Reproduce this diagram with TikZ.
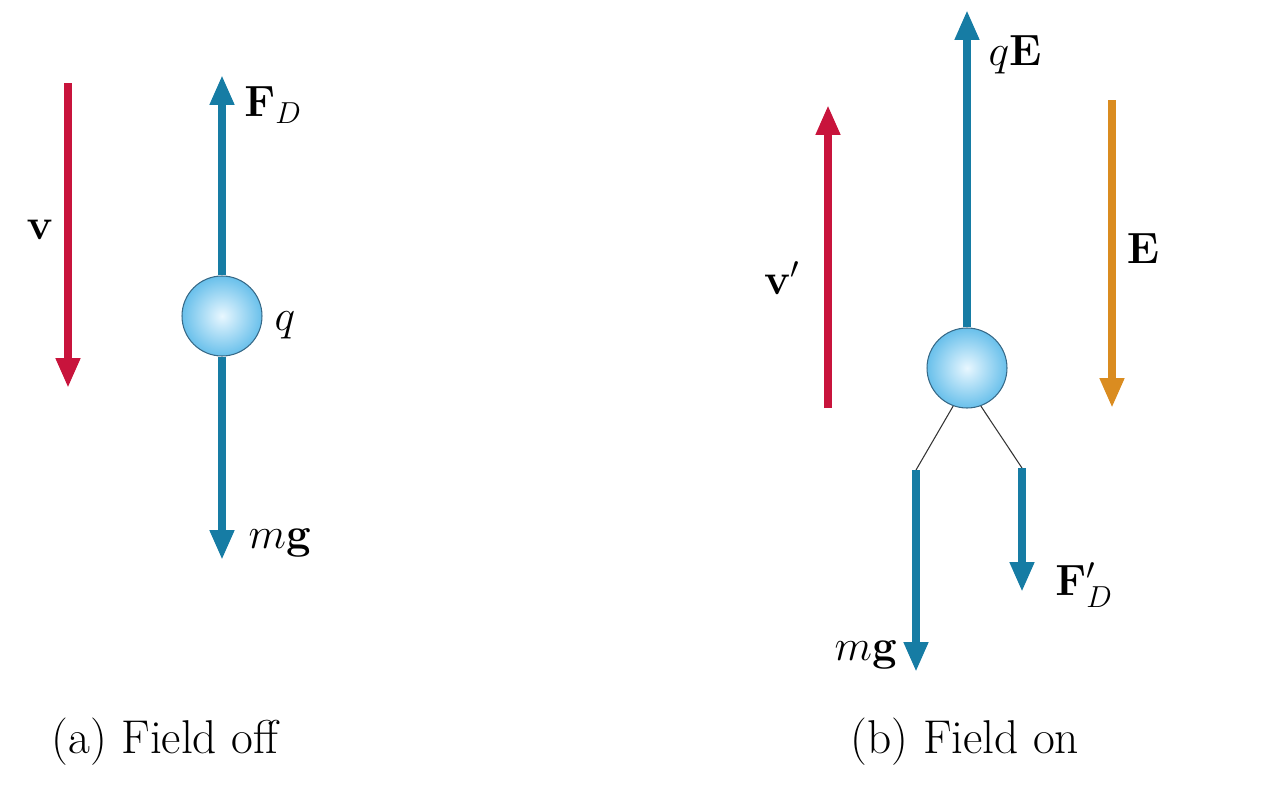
\documentclass[tikz,border=0pt]{standalone}
\usepackage{amsmath}
\usepackage{tikz}
\usetikzlibrary{arrows.meta, positioning}
\definecolor{forceblue}{RGB}{22,124,164}
\definecolor{velred}{RGB}{200,20,60}
\definecolor{fieldorange}{RGB}{218,140,32}
\definecolor{ballblue}{RGB}{105,192,235}
\definecolor{ballglow}{RGB}{232,247,255}
\definecolor{balledge}{RGB}{55,105,135}

\begin{document}
\begin{tikzpicture}[
    x=0.02cm, y=-0.02cm,
    ball/.style={circle, draw=balledge, line width=0.6pt, inner color=ballglow, outer color=ballblue, minimum size=1.6cm, inner sep=0pt},
    vec/.style={line width=4.5pt, -{Triangle[width=13pt, length=17pt]}},
    tie/.style={line width=0.6pt, black!80},
    lbl/.style={font=\fontsize{23}{27}\selectfont, inner sep=0pt},
    caption/.style={font=\fontsize{27}{32}\selectfont, inner sep=0pt}
]
    \useasboundingbox (0,0) rectangle (1285,788);

    % Field off
    \node (ballA) [ball] at (222,316) {};
    \coordinate (vAtop) at (68,83);
    \coordinate (vAtip) at (68,388);
    \coordinate (fdtip) at (222,75);
    \coordinate (mgAtip) at (222,560);
    \node (vA) [lbl] at (40,230) {$\mathbf{v}$};
    \node (fdA) [lbl] at (273,105) {$\mathbf{F}_D$};
    \node (qA) [lbl] at (285,325) {$q$};
    \node (mgA) [lbl] at (280,543) {$m\mathbf{g}$};
    \node (capA) [caption] at (165,742) {(a) Field off};

    % Field on
    \node (ballB) [ball] at (967,368) {};
    \coordinate (vBbot) at (828,408);
    \coordinate (vBtip) at (828,105);
    \coordinate (qEtip) at (967,10);
    \coordinate (Etop) at (1112,100);
    \coordinate (Etip) at (1112,408);
    \coordinate (mgBtop) at (916,470);
    \coordinate (mgBtip) at (916,672);
    \coordinate (fdBtop) at (1022,468);
    \coordinate (fdBtip) at (1022,592);
    \node (vB) [lbl] at (782,278) {$\mathbf{v}'$};
    \node (qEB) [lbl] at (1015,55) {$q\mathbf{E}$};
    \node (EB) [lbl] at (1143,248) {$\mathbf{E}$};
    \node (mgB) [lbl] at (866,655) {$m\mathbf{g}$};
    \node (fdB) [lbl] at (1084,585) {$\mathbf{F}_D'$};
    \node (capB) [caption] at (965,742) {(b) Field on};

    % Vectors
    \draw [vec, velred] (vAtop) -- (vAtip);
    \draw [vec, forceblue] (ballA.north) -- (fdtip);
    \draw [vec, forceblue] (ballA.south) -- (mgAtip);
    \draw [vec, velred] (vBbot) -- (vBtip);
    \draw [vec, forceblue] (ballB.north) -- (qEtip);
    \draw [vec, fieldorange] (Etop) -- (Etip);
    \draw [tie] (ballB.250) -- (mgBtop);
    \draw [tie] (ballB.290) -- (fdBtop);
    \draw [vec, forceblue] (mgBtop) -- (mgBtip);
    \draw [vec, forceblue] (fdBtop) -- (fdBtip);
\end{tikzpicture}
\end{document}
